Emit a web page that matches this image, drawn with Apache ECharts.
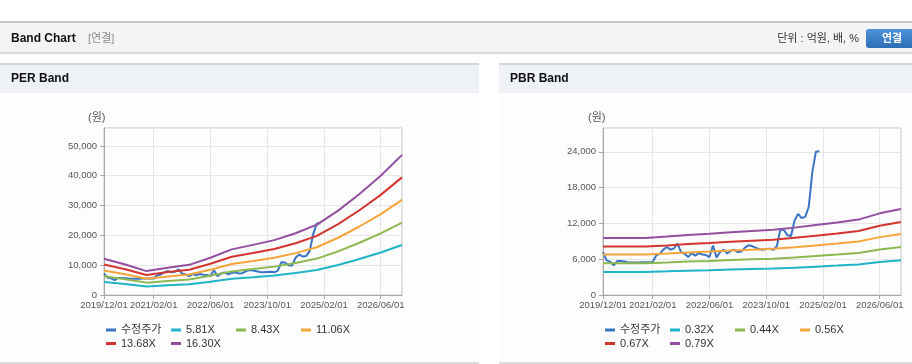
<!DOCTYPE html>
<html><head><meta charset="utf-8">
<script src="https://cdn.jsdelivr.net/npm/echarts@6/dist/echarts.min.js"></script>
<style>html,body{margin:0;padding:0;background:#fff}#c{width:912px;height:364px}</style>
</head><body><div id="c"></div>
<script>
// ---------- data ----------
const categories = [
 '2019/12/01',
 '2020/01/01','2020/02/01','2020/03/01','2020/04/01','2020/05/01','2020/06/01','2020/07/01','2020/08/01','2020/09/01','2020/10/01','2020/11/01','2020/12/01',
 '2021/01/01','2021/02/01','2021/03/01','2021/04/01','2021/05/01','2021/06/01','2021/07/01','2021/08/01','2021/09/01','2021/10/01','2021/11/01','2021/12/01',
 '2022/01/01','2022/02/01','2022/03/01','2022/04/01','2022/05/01','2022/06/01','2022/07/01','2022/08/01','2022/09/01','2022/10/01','2022/11/01','2022/12/01',
 '2023/01/01','2023/02/01','2023/03/01','2023/04/01','2023/05/01','2023/06/01','2023/07/01','2023/08/01','2023/09/01','2023/10/01','2023/11/01','2023/12/01',
 '2024/01/01','2024/02/01','2024/03/01','2024/04/01','2024/05/01','2024/06/01','2024/07/01','2024/08/01','2024/09/01','2024/10/01','2024/11/01','2024/12/01',
 '2025/01/01','2025/02/01','2025/03/01','2025/04/01','2025/05/01','2025/06/01','2025/07/01','2025/08/01','2025/09/01','2025/10/01','2025/11/01','2025/12/01',
 '2026/01/01','2026/02/01','2026/03/01','2026/04/01','2026/05/01','2026/06/01','2026/07/01','2026/08/01','2026/09/01','2026/10/01','2026/11/01','2026/12/01'
];
const xLabelIndices = [0, 14, 30, 46, 62, 78];

// adjusted price (monthly, from 2019/12)
const price = [7200,5800,5600,4960,5700,5700,5600,5500,5450,5450,5450,5500,5500,5500,5550,6640,6900,7600,8050,7600,
 7800,8600,7200,6900,6360,7030,6600,7030,6800,6700,6360,8300,6300,7200,7600,6950,7400,7600,7200,7300,
 7940,8330,8200,7940,7700,7600,7700,7770,7600,8170,11000,10900,10000,9900,12500,13600,12900,13100,14800,20600,
 24000,24100];

// band values every 6 months (month index from 2019/12)
const bandMonths = [0,6,12,18,24,30,36,42,48,54,60,66,72,78,84];

const perNames = ['5.81X','8.43X','11.06X','13.68X','16.30X'];
const per581  = [4334,3654,2859,3259,3602,4456,5456,5990,6559,7379,8413,10086,12067,14258,16750];
const per843  = [6289,5302,4148,4729,5227,6466,7916,8691,9517,10706,12207,14634,17509,20687,24304];
const per1106 = [8251,6957,5442,6205,6857,8483,10385,11403,12487,14046,16015,19200,22972,27141,31886];
const per1368 = [10205,8605,6731,7674,8482,10493,12846,14104,15445,17374,19809,23748,28413,33571,39439];
const per1630 = [12160,10253,8020,9144,10106,12502,15306,16805,18403,20701,23602,28297,33855,40000,46993];

const pbrNames = ['0.32X','0.44X','0.56X','0.67X','0.79X'];
const pbr032 = [3876,3876,3876,3968,4080,4160,4256,4346,4432,4576,4752,4928,5120,5546,5840];
const pbr044 = [5330,5330,5330,5456,5610,5720,5852,5975,6094,6292,6534,6776,7040,7625,8030];
const pbr056 = [6784,6784,6784,6944,7140,7280,7448,7605,7756,8008,8316,8624,8960,9705,10220];
const pbr067 = [8116,8116,8116,8308,8543,8710,8911,9099,9280,9581,9950,10318,10720,11611,12228];
const pbr079 = [9570,9570,9570,9796,10073,10270,10507,10728,10942,11297,11732,12166,12640,13691,14418];

const perTicks = {max: 56000, interval: 10000};
const pbrTicks = {max: 28000, interval: 6000};

// ---------- styles ----------
const FONT = 'Liberation Sans, Arial, Noto Sans CJK KR, sans-serif';
const priceColor = '#3a74c4';
const bandColors = ['#1fb4c6', '#8cb850', '#f5a53a', '#d3352e', '#924f9f'];

const chart = echarts.init(document.getElementById('c'), null, {renderer: 'canvas'});
const showIdx = (i) => xLabelIndices.indexOf(i) >= 0;

function xAxis(g) {
  return {
    type: 'category', gridIndex: g, data: categories, boundaryGap: false,
    axisLine: {lineStyle: {color: '#a8a8a8'}},
    axisTick: {interval: showIdx, length: 4, lineStyle: {color: '#a8a8a8'}},
    axisLabel: {interval: showIdx, color: '#555', fontSize: 9.5, margin: 6, fontFamily: FONT},
    splitLine: {show: true, interval: showIdx, lineStyle: {color: '#e6e6e6'}}
  };
}
function yAxis(g, t) {
  return {
    type: 'value', gridIndex: g, min: 0, max: t.max, interval: t.interval,
    axisLine: {show: true, lineStyle: {color: '#a8a8a8'}},
    axisTick: {show: true, length: 4, lineStyle: {color: '#a8a8a8'}},
    axisLabel: {color: '#555', fontSize: 9.5, margin: 7, showMaxLabel: false, fontFamily: FONT},
    splitLine: {show: true, lineStyle: {color: '#e6e6e6'}}
  };
}
const pairs = (vals) => bandMonths.map((m, i) => [m, vals[i]]);
function line(name, g, data, color) {
  return {
    name, type: 'line', xAxisIndex: g, yAxisIndex: g, data, showSymbol: false, symbol: 'none',
    lineStyle: {width: 2, color}, itemStyle: {color}, animation: false
  };
}

const series = [
  line('수정주가', 0, price, priceColor),
  line(perNames[0], 0, pairs(per581), bandColors[0]),
  line(perNames[1], 0, pairs(per843), bandColors[1]),
  line(perNames[2], 0, pairs(per1106), bandColors[2]),
  line(perNames[3], 0, pairs(per1368), bandColors[3]),
  line(perNames[4], 0, pairs(per1630), bandColors[4]),
  line('수정주가', 1, price, priceColor),
  line(pbrNames[0], 1, pairs(pbr032), bandColors[0]),
  line(pbrNames[1], 1, pairs(pbr044), bandColors[1]),
  line(pbrNames[2], 1, pairs(pbr056), bandColors[2]),
  line(pbrNames[3], 1, pairs(pbr067), bandColors[3]),
  line(pbrNames[4], 1, pairs(pbr079), bandColors[4])
];

function legendsFor(names, baseX) {
  const rows = [[0, 323.5], [0, 337]];
  const out = [];
  names.forEach((n, i) => {
    const col = i % 4, row = Math.floor(i / 4);
    out.push({
      data: [n], left: baseX + col * 65, top: rows[row][1], orient: 'horizontal',
      icon: 'rect', itemWidth: 10, itemHeight: 3, itemGap: 0, padding: 0, selectedMode: false,
      textStyle: {fontSize: 11, color: '#333', fontFamily: FONT, lineHeight: 13}
    });
  });
  return out;
}
const legends = legendsFor(['수정주가'].concat(perNames), 106)
  .concat(legendsFor(['수정주가'].concat(pbrNames), 605));

const graphic = [
  {type: 'rect', silent: true, z: -10, shape: {x: 0, y: 21, width: 912, height: 2}, style: {fill: '#c6c6c6'}},
  {type: 'rect', silent: true, z: -10, shape: {x: 0, y: 23, width: 912, height: 29}, style: {fill: '#f4f4f4'}},
  {type: 'rect', silent: true, z: -10, shape: {x: 0, y: 52, width: 912, height: 3},
    style: {fill: new echarts.graphic.LinearGradient(0, 0, 0, 1, [{offset: 0, color: '#c8c8c8'}, {offset: 1, color: '#ffffff'}])}},
  {type: 'text', silent: true, style: {x: 11, y: 39, text: 'Band Chart', font: 'bold 12px ' + FONT, fill: '#111', verticalAlign: 'middle'}},
  {type: 'text', silent: true, style: {x: 88, y: 39, text: '[연결]', font: '11px ' + FONT, fill: '#888', verticalAlign: 'middle'}},
  {type: 'text', silent: true, style: {x: 859, y: 39, text: '단위 : 억원, 배, %', font: '11px ' + FONT, fill: '#333', align: 'right', verticalAlign: 'middle'}},
  {type: 'rect', silent: true, shape: {x: 866, y: 29, width: 52, height: 19, r: 3},
    style: {fill: new echarts.graphic.LinearGradient(0, 0, 0, 1, [{offset: 0, color: '#4d92d8'}, {offset: 1, color: '#2b6db6'}])}},
  {type: 'text', silent: true, style: {x: 892, y: 39, text: '연결', font: 'bold 11px ' + FONT, fill: '#fff', align: 'center', verticalAlign: 'middle'}},
  // left panel
  {type: 'rect', silent: true, z: -10, shape: {x: 0, y: 63, width: 479, height: 2}, style: {fill: '#d6d6d6'}},
  {type: 'rect', silent: true, z: -10, shape: {x: 0, y: 65, width: 479, height: 28}, style: {fill: '#eef2f7'}},
  {type: 'rect', silent: true, z: -10, shape: {x: 0, y: 93, width: 479, height: 269}, style: {fill: '#fdfdfd'}},
  {type: 'rect', silent: true, z: -10, shape: {x: 0, y: 362, width: 479, height: 2}, style: {fill: '#dcdcdc'}},
  {type: 'text', silent: true, style: {x: 11, y: 79, text: 'PER Band', font: 'bold 12px ' + FONT, fill: '#111', verticalAlign: 'middle'}},
  {type: 'text', silent: true, style: {x: 88, y: 118, text: '(원)', font: '11px ' + FONT, fill: '#555', verticalAlign: 'middle'}},
  // right panel
  {type: 'rect', silent: true, z: -10, shape: {x: 499, y: 63, width: 413, height: 2}, style: {fill: '#d6d6d6'}},
  {type: 'rect', silent: true, z: -10, shape: {x: 499, y: 65, width: 413, height: 28}, style: {fill: '#eef2f7'}},
  {type: 'rect', silent: true, z: -10, shape: {x: 499, y: 93, width: 413, height: 269}, style: {fill: '#fdfdfd'}},
  {type: 'rect', silent: true, z: -10, shape: {x: 499, y: 362, width: 413, height: 2}, style: {fill: '#dcdcdc'}},
  {type: 'text', silent: true, style: {x: 510, y: 79, text: 'PBR Band', font: 'bold 12px ' + FONT, fill: '#111', verticalAlign: 'middle'}},
  {type: 'text', silent: true, style: {x: 588, y: 118, text: '(원)', font: '11px ' + FONT, fill: '#555', verticalAlign: 'middle'}}
];

chart.setOption({
  animation: false,
  backgroundColor: '#ffffff',
  textStyle: {fontFamily: FONT},
  grid: [
    {left: 104, top: 128, width: 298, height: 167, show: true, borderColor: '#c4c4c4', borderWidth: 1, backgroundColor: 'transparent'},
    {left: 603, top: 128, width: 298, height: 167, show: true, borderColor: '#c4c4c4', borderWidth: 1, backgroundColor: 'transparent'}
  ],
  xAxis: [xAxis(0), xAxis(1)],
  yAxis: [yAxis(0, perTicks), yAxis(1, pbrTicks)],
  legend: legends,
  graphic: graphic,
  series: series
});
</script>
</body></html>
